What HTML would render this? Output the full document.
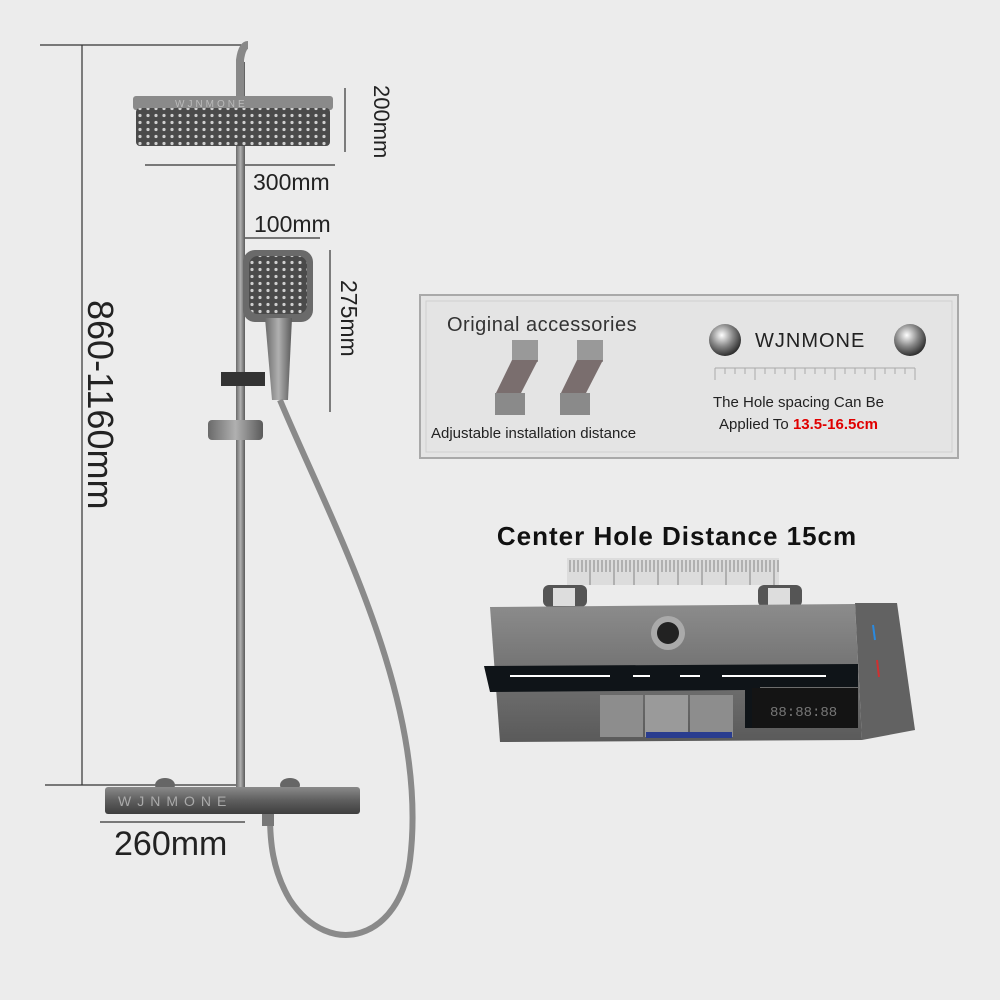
<!DOCTYPE html>
<html><head><meta charset="utf-8"><style>
html,body{margin:0;padding:0;background:#ececec;}
svg{display:block;font-family:"Liberation Sans",sans-serif;}
</style></head><body>
<svg width="1000" height="1000" viewBox="0 0 1000 1000">
<defs>
<linearGradient id="metal" x1="0" y1="0" x2="0" y2="1">
<stop offset="0" stop-color="#8a8a8a"/><stop offset="0.5" stop-color="#5e5e5e"/><stop offset="1" stop-color="#3e3e3e"/></linearGradient>
<linearGradient id="pipe" x1="0" y1="0" x2="1" y2="0">
<stop offset="0" stop-color="#6a6a6a"/><stop offset="0.5" stop-color="#b0b0b0"/><stop offset="1" stop-color="#5a5a5a"/></linearGradient>
<linearGradient id="body" x1="0" y1="0" x2="0" y2="1">
<stop offset="0" stop-color="#8c8c8c"/><stop offset="0.4" stop-color="#777"/><stop offset="1" stop-color="#5a5a5a"/></linearGradient>
<radialGradient id="ball" cx="0.4" cy="0.35" r="0.7"><stop offset="0" stop-color="#fff"/><stop offset="0.5" stop-color="#888"/><stop offset="1" stop-color="#222"/></radialGradient>
<pattern id="dots" width="8" height="7" patternUnits="userSpaceOnUse"><rect width="8" height="7" fill="#4a4a4a"/><circle cx="4" cy="3.5" r="1.6" fill="#cfcfcf"/></pattern>
</defs>
<rect width="1000" height="1000" fill="#ececec"/>

<g stroke="#333" stroke-width="1.2">
<line x1="40" y1="45" x2="245" y2="45"/><line x1="82" y1="45" x2="82" y2="785"/><line x1="45" y1="785" x2="240" y2="785"/>
<line x1="345" y1="88" x2="345" y2="152"/><line x1="145" y1="165" x2="335" y2="165"/>
<line x1="245" y1="238" x2="320" y2="238"/><line x1="330" y1="250" x2="330" y2="412"/>
<line x1="100" y1="822" x2="245" y2="822"/>
</g>
<text transform="translate(88,300) rotate(90)" font-size="36" fill="#222">860-1160mm</text>
<text transform="translate(374,85) rotate(90)" font-size="22" fill="#222">200mm</text>
<text x="253" y="190" font-size="23" fill="#222">300mm</text>
<text x="254" y="232" font-size="23" fill="#222">100mm</text>
<text transform="translate(341,280) rotate(90)" font-size="23" fill="#222">275mm</text>
<text x="114" y="855" font-size="34" fill="#222">260mm</text>

<rect x="236" y="62" width="9" height="730" fill="url(#pipe)"/>
<path d="M240 100 L240 60 Q242 45 248 45" fill="none" stroke="#888" stroke-width="8"/>
<rect x="133" y="96" width="200" height="14" rx="3" fill="#8a8a8a"/>
<text x="175" y="107" font-size="10" fill="#bbb" letter-spacing="3">WJNMONE</text>
<rect x="136" y="108" width="194" height="38" rx="4" fill="url(#dots)"/>
<rect x="243" y="250" width="70" height="72" rx="12" fill="#6a6a6a"/>
<rect x="249" y="256" width="58" height="58" rx="9" fill="url(#dots)"/>
<path d="M265 318 L292 318 L288 400 L272 400 Z" fill="url(#pipe)"/>
<rect x="221" y="372" width="44" height="14" fill="#333"/>
<rect x="208" y="420" width="55" height="20" rx="4" fill="url(#pipe)"/>
<path d="M280 400 C330 520 430 700 410 860 C400 940 330 960 290 900 C272 870 270 840 270 815" fill="none" stroke="#8a8a8a" stroke-width="6"/>
<ellipse cx="165" cy="785" rx="10" ry="7" fill="#666"/><ellipse cx="290" cy="785" rx="10" ry="7" fill="#666"/>
<rect x="105" y="787" width="255" height="27" rx="3" fill="url(#metal)"/>
<text x="118" y="806" font-size="14" fill="#aaa" letter-spacing="6">WJNMONE</text>
<rect x="262" y="814" width="12" height="12" fill="#777"/>

<rect x="420" y="295" width="538" height="163" fill="#e4e4e4" stroke="#a9a9a9" stroke-width="2"/>
<rect x="426" y="301" width="526" height="151" fill="none" stroke="#cfcfcf" stroke-width="1"/>
<text x="447" y="331" font-size="20" fill="#333" letter-spacing="0.5">Original accessories</text>
<g fill="#7a6e6e">
<rect x="512" y="340" width="26" height="22" fill="#999"/>
<path d="M512 360 L538 360 L520 395 L495 395 Z"/>
<rect x="495" y="393" width="30" height="22" fill="#8a8a8a"/>
<rect x="577" y="340" width="26" height="22" fill="#999"/>
<path d="M577 360 L603 360 L585 395 L560 395 Z"/>
<rect x="560" y="393" width="30" height="22" fill="#8a8a8a"/>
</g>
<text x="431" y="438" font-size="15" fill="#222">Adjustable installation distance</text>
<circle cx="725" cy="340" r="16" fill="url(#ball)"/><circle cx="910" cy="340" r="16" fill="url(#ball)"/>
<text x="755" y="347" font-size="20" fill="#222" letter-spacing="1">WJNMONE</text>
<line x1="715" y1="368" x2="915" y2="368" stroke="#aaa" stroke-width="1"/>
<g stroke="#aaa" stroke-width="1">
<path d="M715 368v12M725 368v6M735 368v6M745 368v6M755 368v12M765 368v6M775 368v6M785 368v6M795 368v12M805 368v6M815 368v6M825 368v6M835 368v12M845 368v6M855 368v6M865 368v6M875 368v12M885 368v6M895 368v6M905 368v6M915 368v12"/>
</g>
<text x="713" y="407" font-size="15" fill="#222">The Hole spacing Can Be</text>
<text x="719" y="429" font-size="15" fill="#222">Applied To <tspan fill="#e00000" font-weight="bold">13.5-16.5cm</tspan></text>

<text x="677" y="545" font-size="26" font-weight="bold" fill="#111" text-anchor="middle" letter-spacing="1">Center Hole Distance 15cm</text>
<rect x="567" y="558" width="212" height="27" fill="#dcdcdc"/>
<g stroke="#999" stroke-width="1.3">
<path d="M570 560v12M574 560v12M578 560v12M582 560v12M586 560v12M590 560v25M594 560v12M598 560v12M602 560v12M606 560v12M610 560v12M614 560v25M618 560v12M622 560v12M626 560v12M630 560v12M634 560v25M638 560v12M642 560v12M646 560v12M650 560v12M654 560v12M658 560v25M662 560v12M666 560v12M670 560v12M674 560v12M678 560v25M682 560v12M686 560v12M690 560v12M694 560v12M698 560v12M702 560v25M706 560v12M710 560v12M714 560v12M718 560v12M722 560v12M726 560v25M730 560v12M734 560v12M738 560v12M742 560v12M746 560v12M750 560v25M754 560v12M758 560v12M762 560v12M766 560v12M770 560v12M774 560v25M778 560v12"/>
</g>
<rect x="543" y="585" width="44" height="22" rx="6" fill="#555"/><rect x="758" y="585" width="44" height="22" rx="6" fill="#555"/>
<rect x="553" y="588" width="22" height="18" fill="#ddd"/><rect x="768" y="588" width="22" height="18" fill="#ddd"/>
<path d="M490 607 L855 604 L862 740 L500 742 Z" fill="url(#body)"/>
<path d="M855 603 L897 603 L915 730 L862 740 Z" fill="#626262"/>
<circle cx="668" cy="633" r="17" fill="#aaa"/><circle cx="668" cy="633" r="11" fill="#222"/>
<path d="M484 666 L858 664 L858 687 L760 687 L760 728 L745 728 L745 690 L490 692 Z" fill="#0f1418"/>
<line x1="510" y1="676" x2="610" y2="676" stroke="#fff" stroke-width="2"/>
<line x1="633" y1="676" x2="650" y2="676" stroke="#fff" stroke-width="2"/>
<line x1="680" y1="676" x2="700" y2="676" stroke="#fff" stroke-width="2"/>
<line x1="722" y1="676" x2="826" y2="676" stroke="#fff" stroke-width="2"/>
<rect x="752" y="688" width="106" height="40" fill="#141414"/>
<text x="770" y="716" font-size="14" fill="#777" font-family="Liberation Mono,monospace">88:88:88</text>
<rect x="600" y="695" width="43" height="42" fill="#8d8d8d"/>
<rect x="645" y="695" width="43" height="42" fill="#9a9a9a"/>
<rect x="690" y="695" width="43" height="42" fill="#8d8d8d"/>
<rect x="646" y="732" width="86" height="6" fill="#2a3d8f"/>
<line x1="873" y1="625" x2="875" y2="640" stroke="#2a8ae0" stroke-width="2"/>
<line x1="877" y1="660" x2="879" y2="677" stroke="#d03030" stroke-width="2"/>
</svg>
</body></html>
